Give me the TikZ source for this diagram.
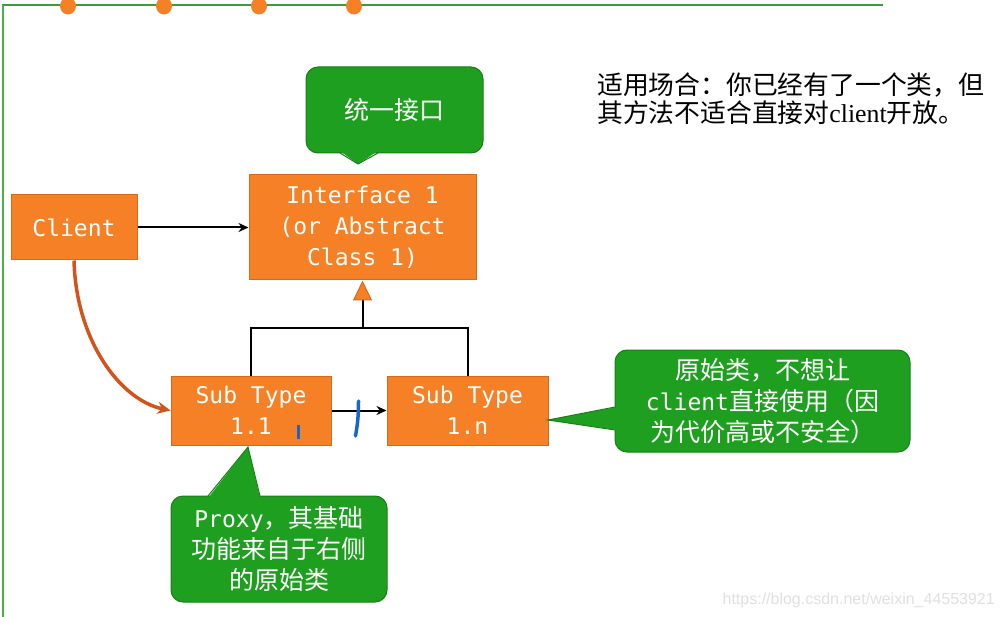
\documentclass[tikz,border=0pt]{standalone}
\usepackage{fontspec}
\usepackage{xcolor}
\usepackage{tikz}
\usetikzlibrary{positioning,shapes.geometric,arrows.meta,calc}
\setmainfont{Liberation Serif}
\newfontfamily\cjkfont{Noto Sans CJK SC}
\newfontfamily\codefont{DejaVu Sans Mono}
\newfontfamily\urlfont{Liberation Sans}
\definecolor{clsfill}{HTML}{F58025}
\definecolor{clsline}{HTML}{D8691A}
\definecolor{notefill}{HTML}{1F9F1F}
\definecolor{noteline}{HTML}{168016}
\definecolor{frameline}{HTML}{4DB04F}
\definecolor{framedark}{HTML}{3C9A45}
\definecolor{callline}{HTML}{D4521C}
\definecolor{pen}{HTML}{1767C9}
\tikzset{
  cls/.style={rectangle,draw=clsline,fill=clsfill,text=white,align=center,
    inner sep=0pt,line width=1pt,font=\fontsize{23}{31}\selectfont\codefont},
  note/.style={rectangle,rounded corners=12pt,draw=noteline,fill=notefill,text=white,
    align=center,inner sep=0pt,line width=1pt,font=\fontsize{25}{31}\selectfont\cjkfont},
  fl/.style={-{Stealth[length=10pt,width=9pt]},draw=black,line width=2pt},
  isa/.style={-{Triangle[length=20pt,width=19pt,line width=1pt,color=clsline,fill=clsfill]},draw=black,line width=2pt},
  use/.style={-{Stealth[length=13pt,width=12pt]},draw=callline,line width=3.5pt},
  penmark/.style={draw=pen,line width=3.5pt,line cap=round},
  dot/.style={ellipse,fill=clsfill,minimum width=16pt,minimum height=17pt,inner sep=0pt},
}

\begin{document}
\begin{tikzpicture}[x=1pt,y=-1pt]
  \useasboundingbox (0,0) rectangle (1003,617);
  \draw[framedark,line width=2.2pt] (2,5) -- (883,5);
  \draw[frameline,line width=2pt] (3,5) -- (3,617);
  \foreach \x [count=\i] in {68,164,259,354}
    \node[dot] (dot\i) at (\x,6) {};

  \node[cls,minimum width=126pt,minimum height=65pt] (client) at (74,227.5) {Client};
  \node[cls,minimum width=227pt,minimum height=105pt] (iface) at (362.5,227.5) {Interface 1\\(or Abstract\\Class 1)};
  \node[cls,minimum width=160pt,minimum height=69pt] (sub11) at (251,410.5) {Sub Type\\1.1};
  \node[cls,minimum width=161pt,minimum height=69pt,right=55pt of sub11] (sub1n) {Sub Type\\1.n};
  \coordinate (up) at (362.5,328);

  \draw[fl] (client) -- (iface);
  \draw[fl] (sub11) -- (sub1n);
  \draw[line width=2pt] (sub11.north) |- (up) -| (sub1n.north);
  \draw[isa] (up) -- (iface.south);
  \draw[use] (client.south) .. controls (76,340) and (120,400) .. (sub11.west);

  \draw[penmark] (358.5,401) to[bend left=5] (355.5,436);
  \draw[penmark,line width=3pt,line cap=butt] (298.5,425) -- (298.5,439);

  \node[note,minimum width=177pt,minimum height=86pt] (unify) at (394.5,110) {统一接口};
  \fill[notefill] (340,151) -- (358,164) -- (378,151) -- cycle;
  \draw[noteline,line width=1pt] (340,153) -- (358,164) -- (378,153);

  \node[note,minimum width=216pt,minimum height=106pt] (proxy) at (279,549) {{\fontsize{23}{31}\selectfont\codefont Proxy}，其基础\\功能来自于右侧\\的原始类};
  \fill[notefill] (208,498) -- (248,447) -- (260,498) -- cycle;
  \draw[noteline,line width=1pt] (208,496) -- (248,447) -- (260,496);

  \node[note,minimum width=295pt,minimum height=102pt] (orig) at (762.5,401) {原始类，不想让\\{\fontsize{23}{31}\selectfont\codefont client}直接使用（因\\为代价高或不安全）};
  \fill[notefill] (617,407) -- (548,420) -- (617,430) -- cycle;
  \draw[noteline,line width=1pt] (615,407) -- (548,420) -- (615,430);

  \node[anchor=west,align=left,inner sep=0pt,font=\fontsize{25.8}{28}\selectfont\cjkfont] (usage) at (597,99) {适用场合：你已经有了一个类，但\\其方法不适合直接对{\rmfamily client}开放。};
  \node[anchor=east,inner sep=0pt,text=black!12,font=\fontsize{16}{16}\selectfont\urlfont] (wm) at (995,600) {https://blog.csdn.net/weixin\_44553921};
\end{tikzpicture}
\end{document}
